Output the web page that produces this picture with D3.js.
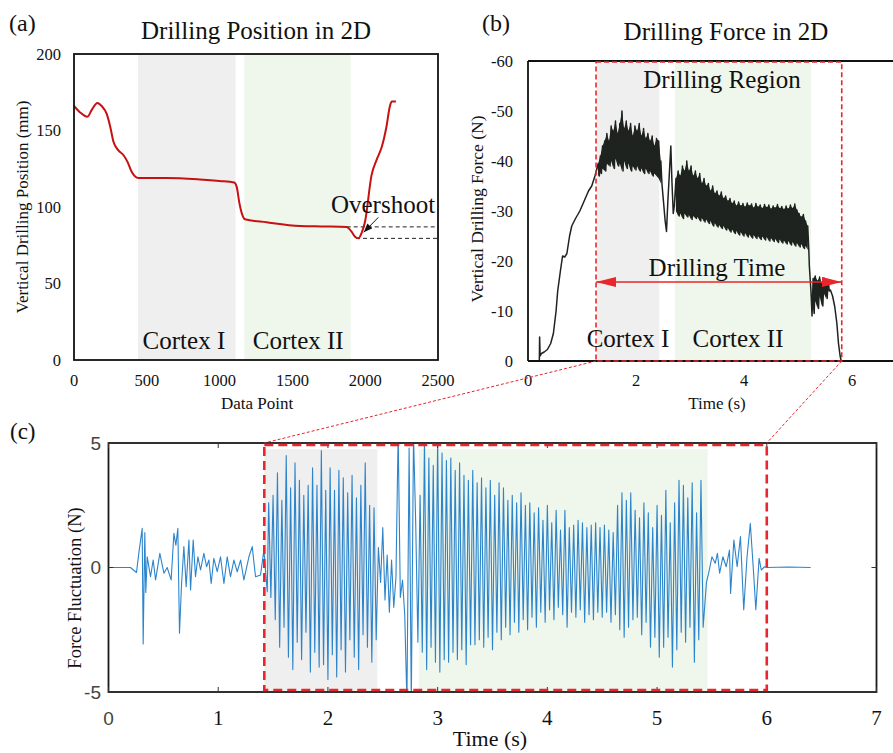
<!DOCTYPE html>
<html>
<head>
<meta charset="utf-8">
<script src="https://cdn.jsdelivr.net/npm/d3@7"></script>
<style>
  body { margin: 0; background: #fff; }
  svg text { font-family: "Liberation Serif", "Times New Roman", serif; fill: #111; }
  svg text.sans { font-family: "Liberation Sans", Arial, sans-serif; fill: #444; }
</style>
</head>
<body>
<svg id="fig" width="893" height="753"></svg>
<script>
// ── (a) drilling position ──
const posIndex = [0, 40, 92, 125, 160, 190, 224, 250, 270, 305, 339, 370, 396, 420, 442, 500, 636, 865, 1000, 1100, 1118, 1135, 1152, 1174, 1323, 1552, 1700, 1873, 1905, 1930, 1953, 1975, 1998, 2044, 2079, 2113, 2145, 2170, 2182, 2211];
const posValue = [166, 162, 159, 164, 168, 166, 161, 152, 143, 137, 134, 129, 123, 120, 119, 119, 119, 118, 117, 116, 113, 103, 96, 92, 90, 87.6, 87.3, 87, 84, 80.5, 79.5, 83, 90, 121, 131, 139, 152, 166, 169, 169];
const posTicksX = [0, 500, 1000, 1500, 2000, 2500];
const posTicksY = [0, 50, 100, 150, 200];
const posBands = [[440, 1110], [1170, 1900]];
const overshootLevels = [87, 79.5];
const overshootFrom = [1873, 1937];

// ── (b) drilling force ──
const forceRise = [[0.21, 0], [0.215, -4.8], [0.225, -1.0], [0.25, -1.5], [0.3, -1.8], [0.36, -2.3], [0.42, -3.5], [0.47, -5.5], [0.52, -10], [0.55, -14], [0.6, -18], [0.64, -21], [0.68, -20.8], [0.72, -21.5], [0.77, -25], [0.81, -27], [0.88, -28.5], [0.96, -30], [1.04, -32], [1.12, -34], [1.18, -35], [1.24, -37]];
// [time, upper edge, lower edge] of the noisy band
const forceBand1 = [[1.30, -39.5, -37], [1.34, -41, -37.5], [1.38, -43, -38.5], [1.42, -44, -38], [1.46, -45.5, -39.5], [1.50, -44, -39], [1.54, -47, -40], [1.58, -46, -38.5], [1.62, -48, -40.5], [1.66, -45.5, -39], [1.70, -47.5, -39.5], [1.74, -50, -38], [1.78, -46.5, -40], [1.82, -48, -38.5], [1.86, -46, -39.5], [1.90, -47.5, -38], [1.94, -45, -39], [1.98, -47, -38.2], [2.02, -46, -39], [2.06, -47.5, -38], [2.10, -45, -38.5], [2.14, -46.5, -37.5], [2.18, -44.5, -38.5], [2.22, -45.5, -37.5], [2.26, -44, -38], [2.30, -45, -37], [2.34, -43, -37.5], [2.38, -44.5, -37], [2.42, -44, -36.5], [2.46, -40, -35.5]];
const forceDip = [[2.50, -33], [2.54, -28], [2.565, -25.9], [2.59, -32], [2.62, -38], [2.645, -43], [2.665, -36], [2.69, -29.5], [2.71, -31]];
const forceBand2 = [[2.74, -36.5, -30], [2.78, -38, -29], [2.82, -37, -29.5], [2.86, -39, -28.5], [2.90, -38, -29.5], [2.94, -40, -28.8], [2.98, -38, -29.2], [3.02, -39, -28.3], [3.06, -37, -29], [3.10, -38, -28.5], [3.14, -36.5, -28.8], [3.18, -37.5, -28], [3.22, -35.5, -28.6], [3.26, -36.5, -27.8], [3.30, -35, -28.3], [3.34, -35.5, -27.5], [3.38, -34, -28], [3.42, -35, -27], [3.46, -33.5, -27.6], [3.50, -34, -26.8], [3.54, -33, -27.2], [3.58, -33.8, -26.5], [3.62, -32.5, -27], [3.66, -33, -26.2], [3.70, -32, -26.6], [3.74, -32.5, -25.8], [3.78, -31.5, -26.3], [3.82, -32, -25.5], [3.86, -31, -26], [3.90, -31.8, -25.2], [3.94, -31, -25.8], [3.98, -31.5, -25], [4.02, -30.8, -25.6], [4.06, -31.6, -24.8], [4.10, -31, -25.3], [4.14, -31.4, -24.6], [4.18, -30.6, -25.2], [4.22, -31.5, -24.5], [4.26, -30.8, -25], [4.30, -31.2, -24.3], [4.34, -30.5, -24.9], [4.38, -31.3, -24.2], [4.42, -30.7, -24.8], [4.46, -31.2, -24], [4.50, -30.4, -24.6], [4.54, -31, -23.9], [4.58, -30.6, -24.4], [4.62, -31.3, -23.7], [4.66, -30.5, -24.3], [4.70, -30.9, -23.6], [4.74, -30.3, -24.1], [4.78, -31, -23.4], [4.82, -30.4, -24], [4.86, -31.2, -23.2], [4.90, -30.5, -23.8], [4.94, -31.4, -23], [4.98, -30.2, -23.6], [5.02, -29.5, -22.8], [5.06, -28.8, -23.4], [5.10, -29.3, -22.5], [5.14, -28, -23], [5.18, -27, -22.2]];
const forceDrop = [[5.21, -19], [5.24, -14], [5.26, -9]];
const forceBand3 = [[5.28, -16.5, -9.5], [5.32, -17, -12], [5.36, -16, -10.5], [5.40, -16.8, -13], [5.44, -15.5, -11], [5.48, -16.6, -13.5], [5.52, -15.8, -12.5], [5.56, -16, -14]];
const forceTail = [[5.60, -14.2], [5.64, -13], [5.68, -10.9], [5.72, -7.5], [5.75, -3.5], [5.78, -1], [5.80, 0]];
const forceTicksX = [0, 2, 4, 6];
const forceTicksY = [0, -10, -20, -30, -40, -50, -60];
const forceBands = [[1.28, 2.43], [2.72, 5.24]];
const drillRegion = [1.26, 5.81];

// ── (c) force fluctuation ──
const flucPre = [[0, 0], [0.2, 0], [0.255, -0.2], [0.277, 0.6], [0.307, 1.57], [0.316, -3.07], [0.331, 1.4], [0.34, -1.0], [0.353, 0.43], [0.383, -0.37], [0.407, 0.3], [0.429, -0.5], [0.468, 0.57], [0.505, -0.23], [0.535, 0.0], [0.571, -0.5], [0.596, 1.37], [0.614, 0.9], [0.632, 1.57], [0.647, -2.64], [0.666, -0.64], [0.687, 0.84], [0.708, -0.77], [0.733, 1.1], [0.748, -0.9], [0.772, 1.1], [0.793, -0.37], [0.815, 0.43], [0.839, -0.1], [0.869, 0.57], [0.894, 0.03], [0.915, 0.3], [0.936, -0.64], [0.96, 0.37], [0.991, -0.17], [1.021, 0.43], [1.052, -0.64], [1.082, 0.43], [1.112, -0.37], [1.143, 0.3], [1.173, -0.17], [1.204, 0.3], [1.234, -0.5], [1.28, 0.43], [1.31, 0.84], [1.34, -0.37], [1.386, -0.3], [1.416, 0.7], [1.447, -0.97]];
const denseStart = 1.46;
const denseStep = 0.02;
const flucDense = [
  2.6, -1.2, 2.9, -2.1, 3.8, -3.2, 2.7, -2.4, 4.5, -3.6,
  3.2, -4.1, 4.2, -3.0, 3.5, -3.7, 2.9, -2.6, 3.3, -4.2,
  4.0, -3.4, 3.3, -4.0, 4.7, -3.9, 3.1, -4.5, 4.0, -3.5,
  3.1, -4.4, 3.9, -3.3, 3.6, -4.2, 3.0, -2.9, 3.7, -3.6,
  2.8, -4.1, 3.3, -2.7, 4.2, -3.2, 2.5, -3.8, 2.4, -2.9,
  0.8, -0.6, 1.6, -1.3, 0.5, -1.8, 0.3, -1.6, -0.4,
  5.4, -1.2, -0.5, -1.9, -5.4, 4.8, -5.4, 5.3, 1.8, -3.0,
  2.9, -3.4, 5.2, -4.1, 4.4, -3.2, 4.1, -3.8, 5.3, -4.2,
  4.6, -3.7, 4.3, -3.8, 4.4, -3.4, 3.9, -3.7, 4.2, -3.3,
  3.7, -3.9, 3.5, -3.1, 3.9, -3.1, 3.4, -2.9, 3.6, -3.2,
  3.2, -2.8, 3.5, -3.3, 2.9, -2.6, 3.4, -2.9, 3.2, -2.4,
  2.7, -2.7, 2.9, -2.2, 2.6, -2.6, 3.0, -2.1, 2.5, -2.5,
  2.6, -2.0, 2.2, -2.4, 2.4, -1.8, 1.9, -2.2, 2.5, -1.7,
  1.8, -2.1, 2.3, -1.6, 1.5, -1.9, 2.3, -2.4, 1.6, -1.8,
  1.7, -2.0, 1.9, -1.7, 1.8, -2.2, 1.6, -1.9, 1.7, -2.1,
  1.8, -1.8, 1.6, -2.0, 1.7, -1.8, 1.5, -2.2, 1.4, -1.9,
  2.5, -2.5, 3.0, -2.8, 2.7, -2.4, 3.0, -2.1, 2.3, -2.0,
  2.0, -2.7, 2.6, -2.2, 2.2, -3.2, 1.6, -2.8, 2.5, -3.6,
  2.1, -3.2, 3.1, -2.8, 1.8, -4.0, 2.6, -3.3, 3.5, -2.6,
  3.3, -3.0, 2.8, -2.4, 3.4, -3.8, 2.2, -2.9, 3.5, -2.4
];
const flucPost = [[5.45, -0.6], [5.47, -0.23], [5.50, 0.43], [5.53, 0.17], [5.55, 0.57], [5.57, -0.23], [5.60, 0.43], [5.63, 0.03], [5.66, 0.7], [5.67, -1.04], [5.70, 1.1], [5.73, 0.03], [5.76, 1.24], [5.79, -1.7], [5.82, 0.43], [5.85, 1.77], [5.88, -0.23], [5.90, -1.7], [5.93, 0.37], [5.95, -0.1], [5.98, 0.03], [6.0, 0], [6.2, 0.02], [6.4, 0]];
const flucTicksX = [0, 1, 2, 3, 4, 5, 6, 7];
const flucTicksY = [-5, 0, 5];
const flucBands = [[1.42, 2.45], [2.83, 5.46]];
const flucBandTop = 4.75;
const zoomRegion = [1.42, 6.0];

const red = "#e8262b";
const grayBand = "#efefef";
const greenBand = "#eff6ec";
const bandInk = "#1e231f";

const svg = d3.select("#fig");
const defs = svg.append("defs");
defs.append("marker").attr("id", "redHead")
  .attr("viewBox", "0 0 20 10").attr("refX", 20).attr("refY", 5)
  .attr("markerWidth", 20).attr("markerHeight", 10).attr("markerUnits", "userSpaceOnUse")
  .attr("orient", "auto-start-reverse")
  .append("path").attr("d", "M0,0 L20,5 L0,10 Z").attr("fill", red);
defs.append("marker").attr("id", "blackHead")
  .attr("viewBox", "0 0 10 8").attr("refX", 10).attr("refY", 4)
  .attr("markerWidth", 9).attr("markerHeight", 7).attr("markerUnits", "userSpaceOnUse")
  .attr("orient", "auto")
  .append("path").attr("d", "M0,0 L10,4 L0,8 Z").attr("fill", "#111");

// ── panel (a) ──
const xA = d3.scaleLinear().domain([0, 2500]).range([74, 438]);
const yA = d3.scaleLinear().domain([0, 200]).range([360, 54]);
const gA = svg.append("g");

gA.selectAll("rect.band").data(posBands).join("rect")
  .attr("x", d => xA(d[0])).attr("width", d => xA(d[1]) - xA(d[0]))
  .attr("y", yA(200)).attr("height", yA(0) - yA(200))
  .attr("fill", (_, i) => i ? greenBand : grayBand);

gA.selectAll("line.over").data(overshootLevels).join("line")
  .attr("x1", (_, i) => xA(overshootFrom[i])).attr("x2", xA(2500))
  .attr("y1", d => yA(d)).attr("y2", d => yA(d))
  .attr("stroke", "#222").attr("stroke-width", 1).attr("stroke-dasharray", "4,3");

const posLine = d3.line().x(d => xA(d[0])).y(d => yA(d[1])).curve(d3.curveMonotoneX);
gA.append("path").datum(posIndex.map((x, i) => [x, posValue[i]]))
  .attr("d", posLine).attr("fill", "none").attr("stroke", "#c81010").attr("stroke-width", 2);

gA.append("rect").attr("x", xA(0)).attr("y", yA(200))
  .attr("width", xA(2500) - xA(0)).attr("height", yA(0) - yA(200))
  .attr("fill", "none").attr("stroke", "#111").attr("stroke-width", 1.8);

gA.selectAll("text.ty").data(posTicksY).join("text")
  .attr("x", 61).attr("y", d => yA(d)).attr("dy", "0.35em")
  .attr("text-anchor", "end").attr("font-size", 16.5).text(d => d);
gA.selectAll("text.tx").data(posTicksX).join("text")
  .attr("x", d => xA(d)).attr("y", 386)
  .attr("text-anchor", "middle").attr("font-size", 16.5).text(d => d);

gA.append("text").attr("x", 257).attr("y", 403).attr("dy", "0.35em")
  .attr("text-anchor", "middle").attr("font-size", 17).text("Data Point");
gA.append("text").attr("transform", "translate(22,207) rotate(-90)").attr("dy", "0.35em")
  .attr("text-anchor", "middle").attr("font-size", 17).text("Vertical Drilling Position (mm)");
gA.append("text").attr("x", 256).attr("y", 39)
  .attr("text-anchor", "middle").attr("font-size", 25).text("Drilling Position in 2D");
gA.append("text").attr("x", 9).attr("y", 31).attr("font-size", 24).text("(a)");
gA.append("text").attr("x", xA(755)).attr("y", 349)
  .attr("text-anchor", "middle").attr("font-size", 25).text("Cortex I");
gA.append("text").attr("x", xA(1540)).attr("y", 349)
  .attr("text-anchor", "middle").attr("font-size", 25).text("Cortex II");
gA.append("text").attr("x", 383).attr("y", 213)
  .attr("text-anchor", "middle").attr("font-size", 25).text("Overshoot");
gA.append("line")
  .attr("x1", xA(2090)).attr("y1", yA(93.2)).attr("x2", xA(1990)).attr("y2", yA(83.5))
  .attr("stroke", "#111").attr("stroke-width", 1).attr("marker-end", "url(#blackHead)");

// ── panel (b) ──
const xB = d3.scaleLinear().domain([0, 7]).range([528, 906]);
const yB = d3.scaleLinear().domain([0, -60]).range([361, 61]);
const gB = svg.append("g");

gB.selectAll("rect.band").data(forceBands).join("rect")
  .attr("x", d => xB(d[0])).attr("width", d => xB(d[1]) - xB(d[0]))
  .attr("y", yB(-60)).attr("height", yB(0) - yB(-60))
  .attr("fill", (_, i) => i ? greenBand : grayBand);

// solid core of the noisy force band, then the zig-zag trace on top
const forceArea = d3.area().x(d => xB(d[0])).y0(d => yB(d[2])).y1(d => yB(d[1]));
gB.selectAll("path.core").data([forceBand1, forceBand2, forceBand3]).join("path")
  .attr("d", forceArea).attr("fill", bandInk);

const bandPoints = band => band.flatMap(d => [[d[0], d[1]], [d[0] + 0.02, d[2]]]);
const forceSeries = [].concat(forceRise, bandPoints(forceBand1), forceDip,
  bandPoints(forceBand2), forceDrop, bandPoints(forceBand3), forceTail);
const forceLine = d3.line().x(d => xB(d[0])).y(d => yB(d[1]));
gB.append("path").datum(forceSeries).attr("d", forceLine)
  .attr("fill", "none").attr("stroke", bandInk).attr("stroke-width", 1.5)
  .attr("stroke-linejoin", "round");

gB.append("line").attr("x1", xB(0)).attr("x2", xB(0)).attr("y1", yB(-60)).attr("y2", yB(0))
  .attr("stroke", "#111").attr("stroke-width", 1.8);
gB.selectAll("line.hb").data([-60, 0]).join("line")
  .attr("x1", xB(0)).attr("x2", xB(7)).attr("y1", d => yB(d)).attr("y2", d => yB(d))
  .attr("stroke", "#111").attr("stroke-width", 1.8);

gB.append("rect").attr("x", xB(drillRegion[0])).attr("y", yB(-60) + 1)
  .attr("width", xB(drillRegion[1]) - xB(drillRegion[0])).attr("height", yB(0) - yB(-60) - 1)
  .attr("fill", "none").attr("stroke", red).attr("stroke-width", 1.6).attr("stroke-dasharray", "5,3");

gB.append("line")
  .attr("x1", xB(drillRegion[0])).attr("x2", xB(drillRegion[1]))
  .attr("y1", yB(-15.8)).attr("y2", yB(-15.8))
  .attr("stroke", red).attr("stroke-width", 1.3)
  .attr("marker-start", "url(#redHead)").attr("marker-end", "url(#redHead)");

gB.selectAll("text.ty").data(forceTicksY).join("text")
  .attr("x", 513).attr("y", d => yB(d)).attr("dy", "0.35em")
  .attr("text-anchor", "end").attr("font-size", 16.5).text(d => d);
gB.selectAll("text.tx").data(forceTicksX).join("text")
  .attr("x", d => xB(d)).attr("y", 386)
  .attr("text-anchor", "middle").attr("font-size", 16.5).text(d => d);

gB.append("text").attr("x", 717).attr("y", 403).attr("dy", "0.35em")
  .attr("text-anchor", "middle").attr("font-size", 17).text("Time (s)");
gB.append("text").attr("transform", "translate(477,209) rotate(-90)").attr("dy", "0.35em")
  .attr("text-anchor", "middle").attr("font-size", 17.5).text("Vertical Drilling Force (N)");
gB.append("text").attr("x", 726).attr("y", 40)
  .attr("text-anchor", "middle").attr("font-size", 25).text("Drilling Force in 2D");
gB.append("text").attr("x", 482).attr("y", 31).attr("font-size", 24).text("(b)");
gB.append("text").attr("x", 722).attr("y", 88)
  .attr("text-anchor", "middle").attr("font-size", 25).text("Drilling Region");
gB.append("text").attr("x", 717).attr("y", 276)
  .attr("text-anchor", "middle").attr("font-size", 25).text("Drilling Time");
gB.append("text").attr("x", 628).attr("y", 347)
  .attr("text-anchor", "middle").attr("font-size", 25).text("Cortex I");
gB.append("text").attr("x", 738).attr("y", 347)
  .attr("text-anchor", "middle").attr("font-size", 25).text("Cortex II");

// ── panel (c) ──
const xC = d3.scaleLinear().domain([0, 7]).range([108.5, 876.5]);
const yC = d3.scaleLinear().domain([-5, 5]).range([692, 443]);
const gC = svg.append("g");

defs.append("clipPath").attr("id", "clipC").append("rect")
  .attr("x", xC(0)).attr("y", yC(5)).attr("width", xC(7) - xC(0)).attr("height", yC(-5) - yC(5));

gC.selectAll("rect.band").data(flucBands).join("rect")
  .attr("x", d => xC(d[0])).attr("width", d => xC(d[1]) - xC(d[0]))
  .attr("y", yC(flucBandTop)).attr("height", yC(-5) - yC(flucBandTop))
  .attr("fill", (_, i) => i ? greenBand : grayBand);

const flucSeries = [].concat(flucPre,
  flucDense.map((v, i) => [denseStart + i * denseStep, v]), flucPost);
const flucLine = d3.line().x(d => xC(d[0])).y(d => yC(d[1]));
gC.append("path").datum(flucSeries).attr("d", flucLine)
  .attr("clip-path", "url(#clipC)")
  .attr("fill", "none").attr("stroke", "#2c84cb").attr("stroke-width", 1.1)
  .attr("stroke-linejoin", "round");

gC.append("rect").attr("x", xC(0)).attr("y", yC(5))
  .attr("width", xC(7) - xC(0)).attr("height", yC(-5) - yC(5))
  .attr("fill", "none").attr("stroke", "#1a1a1a").attr("stroke-width", 1.8);
gC.selectAll("line.tt").data(flucTicksX).join("line")
  .attr("x1", d => xC(d)).attr("x2", d => xC(d)).attr("y1", yC(5)).attr("y2", yC(5) + 5)
  .attr("stroke", "#333").attr("stroke-width", 1);
gC.selectAll("line.tb").data(flucTicksX).join("line")
  .attr("x1", d => xC(d)).attr("x2", d => xC(d)).attr("y1", yC(-5)).attr("y2", yC(-5) - 5)
  .attr("stroke", "#333").attr("stroke-width", 1);
gC.selectAll("line.tl").data(flucTicksY).join("line")
  .attr("x1", xC(0)).attr("x2", xC(0) + 5).attr("y1", d => yC(d)).attr("y2", d => yC(d))
  .attr("stroke", "#333").attr("stroke-width", 1);
gC.selectAll("line.tr").data(flucTicksY).join("line")
  .attr("x1", xC(7)).attr("x2", xC(7) - 5).attr("y1", d => yC(d)).attr("y2", d => yC(d))
  .attr("stroke", "#333").attr("stroke-width", 1);

gC.append("rect").attr("x", xC(zoomRegion[0])).attr("y", yC(5) + 2)
  .attr("width", xC(zoomRegion[1]) - xC(zoomRegion[0])).attr("height", yC(-5) - yC(5) - 4)
  .attr("fill", "none").attr("stroke", red).attr("stroke-width", 2.6).attr("stroke-dasharray", "9,5");

// connectors from (b) drilling region to (c) box
svg.selectAll("line.conn").data([0, 1]).join("line")
  .attr("x1", i => xB(drillRegion[i])).attr("y1", yB(0))
  .attr("x2", i => xC(zoomRegion[i])).attr("y2", yC(5))
  .attr("stroke", red).attr("stroke-width", 1).attr("stroke-dasharray", "3,2");

gC.selectAll("text.ty").data(flucTicksY).join("text")
  .attr("class", "sans")
  .attr("x", 101).attr("y", d => yC(d)).attr("dy", "0.35em")
  .attr("text-anchor", "end").attr("font-size", 19).text(d => d);
gC.selectAll("text.tx").data(flucTicksX).join("text")
  .attr("class", d => d === 0 ? "sans" : null)
  .attr("x", d => xC(d)).attr("y", 725)
  .attr("text-anchor", "middle").attr("font-size", d => d === 0 ? 19 : 21).text(d => d);

gC.append("text").attr("x", 490).attr("y", 746)
  .attr("text-anchor", "middle").attr("font-size", 22).text("Time (s)");
gC.append("text").attr("transform", "translate(75,588) rotate(-90)").attr("dy", "0.35em")
  .attr("text-anchor", "middle").attr("font-size", 18.5).text("Force Fluctuation (N)");
gC.append("text").attr("x", 10).attr("y", 439).attr("font-size", 23).text("(c)");
</script>
</body>
</html>
